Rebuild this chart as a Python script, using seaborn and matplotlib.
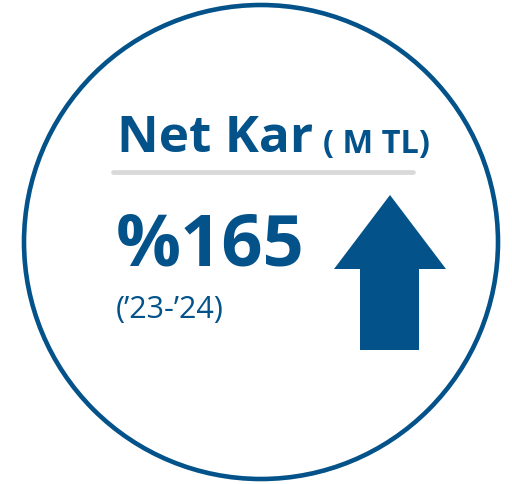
import matplotlib
matplotlib.use("Agg")
import matplotlib.pyplot as plt
import seaborn as sns
from matplotlib.patches import Circle, Polygon

# content
title = "Net Kar"
unit = "( M TL)"
change_pct = 165
period = "(\u201923-\u201924)"

BLUE = "#03528A"
GREY = "#D9D9D9"

sns.set_theme(style="white")
plt.rcParams['font.family'] = ['Open Sans', 'DejaVu Sans']

fig = plt.figure(figsize=(5.12, 4.84), dpi=100)
ax = fig.add_axes([0, 0, 1, 1])
ax.set_xlim(0, 512)
ax.set_ylim(484, 0)
ax.axis('off')

# outer ring
ax.add_patch(Circle((261, 242), 237, fill=False, lw=3.3, ec=BLUE))

# heading
ax.text(117, 152, title, color=BLUE, fontsize=37, fontweight='bold', va='baseline', ha='left')
ax.text(323, 153, unit, color=BLUE, fontsize=23.5, fontweight='bold', va='baseline', ha='left')

# divider
sns.lineplot(x=[113, 413], y=[172, 172], color=GREY, linewidth=3.4, ax=ax)

# main figure
ax.text(116, 265, f"%{change_pct}", color=BLUE, fontsize=52, fontweight='bold', va='baseline', ha='left')
ax.text(116, 318, period, color=BLUE, fontsize=22, va='baseline', ha='left')

# up arrow
arrow = [(390, 195), (446, 269), (419, 269), (419, 350), (360, 350), (360, 269), (334, 269)]
ax.add_patch(Polygon(arrow, closed=True, fc=BLUE, ec='none'))

fig.savefig("out.png", dpi=100)
